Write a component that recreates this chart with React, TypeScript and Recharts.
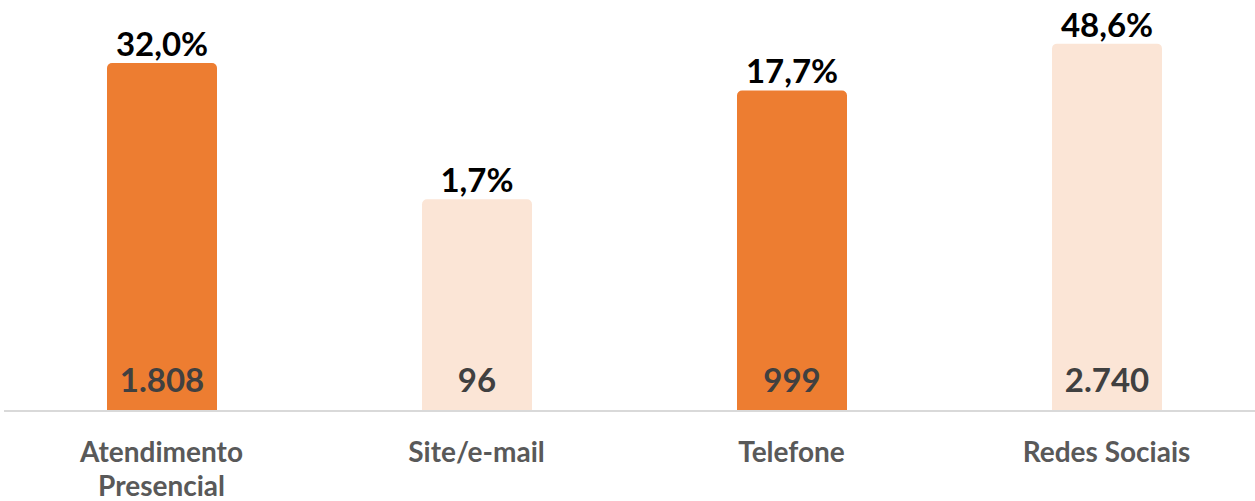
import { Bar, BarChart, Cell, LabelList, XAxis, YAxis } from "recharts";

// Canais de atendimento: quantidade e participacao
const CANAIS = ["Atendimento Presencial", "Site/e-mail", "Telefone", "Redes Sociais"];
const QUANTIDADES = [1808, 96, 999, 2740];
const PERCENTUAIS = [32.0, 1.7, 17.7, 48.6];
const CORES = ["#ED7D31", "#FBE5D6", "#ED7D31", "#FBE5D6"];

const FONTE = "Lato, 'Open Sans', sans-serif";

const dados = CANAIS.map((canal, i) => ({
  canal,
  qtd: QUANTIDADES[i],
  pct: PERCENTUAIS[i],
}));

function milhar(v: number): string {
  return String(v).replace(/\B(?=(\d{3})+(?!\d))/g, ".");
}

function porcento(v: number): string {
  return `${v.toFixed(1).replace(".", ",")}%`;
}

function TickCanal({ x, y, payload }: any) {
  const texto: string = payload.value;
  const linhas = texto.length > 15 ? texto.split(" ") : [texto];
  return (
    <text
      x={x}
      y={y}
      textAnchor="middle"
      fill="#595959"
      fontFamily={FONTE}
      fontWeight={700}
      fontSize={28}
    >
      {linhas.map((l, i) => (
        <tspan key={i} x={x} dy={i === 0 ? 43 : 34}>
          {l}
        </tspan>
      ))}
    </text>
  );
}

function RotuloPct({ x, y, width, value }: any) {
  return (
    <text
      x={x + width / 2}
      y={y - 7}
      textAnchor="middle"
      fill="#000000"
      fontFamily={FONTE}
      fontWeight={700}
      fontSize={33}
    >
      {porcento(value)}
    </text>
  );
}

function RotuloQtd({ x, y, width, height, value }: any) {
  return (
    <text
      x={x + width / 2}
      y={y + height - 19}
      textAnchor="middle"
      fill="#404040"
      fontFamily={FONTE}
      fontWeight={700}
      fontSize={33}
    >
      {milhar(value)}
    </text>
  );
}

export default function App() {
  return (
    <div style={{ position: "fixed", left: 0, top: 0, width: 1255, height: 501, overflow: "hidden", background: "#fff" }}>
      <BarChart
        width={1264}
        height={501}
        data={dados}
        margin={{ top: 37, right: 0, bottom: 0, left: 4 }}
      >
        <XAxis
          dataKey="canal"
          height={90}
          tickLine={false}
          axisLine={{ stroke: "#D9D9D9", strokeWidth: 2 }}
          tick={<TickCanal />}
          interval={0}
        />
        <YAxis hide scale="log" domain={[1, 3162]} allowDataOverflow />
        <Bar dataKey="qtd" barSize={110} radius={[5, 5, 0, 0]} isAnimationActive={false}>
          {dados.map((d, i) => (
            <Cell key={d.canal} fill={CORES[i]} />
          ))}
          <LabelList dataKey="pct" content={<RotuloPct />} />
          <LabelList dataKey="qtd" content={<RotuloQtd />} />
        </Bar>
      </BarChart>
    </div>
  );
}
